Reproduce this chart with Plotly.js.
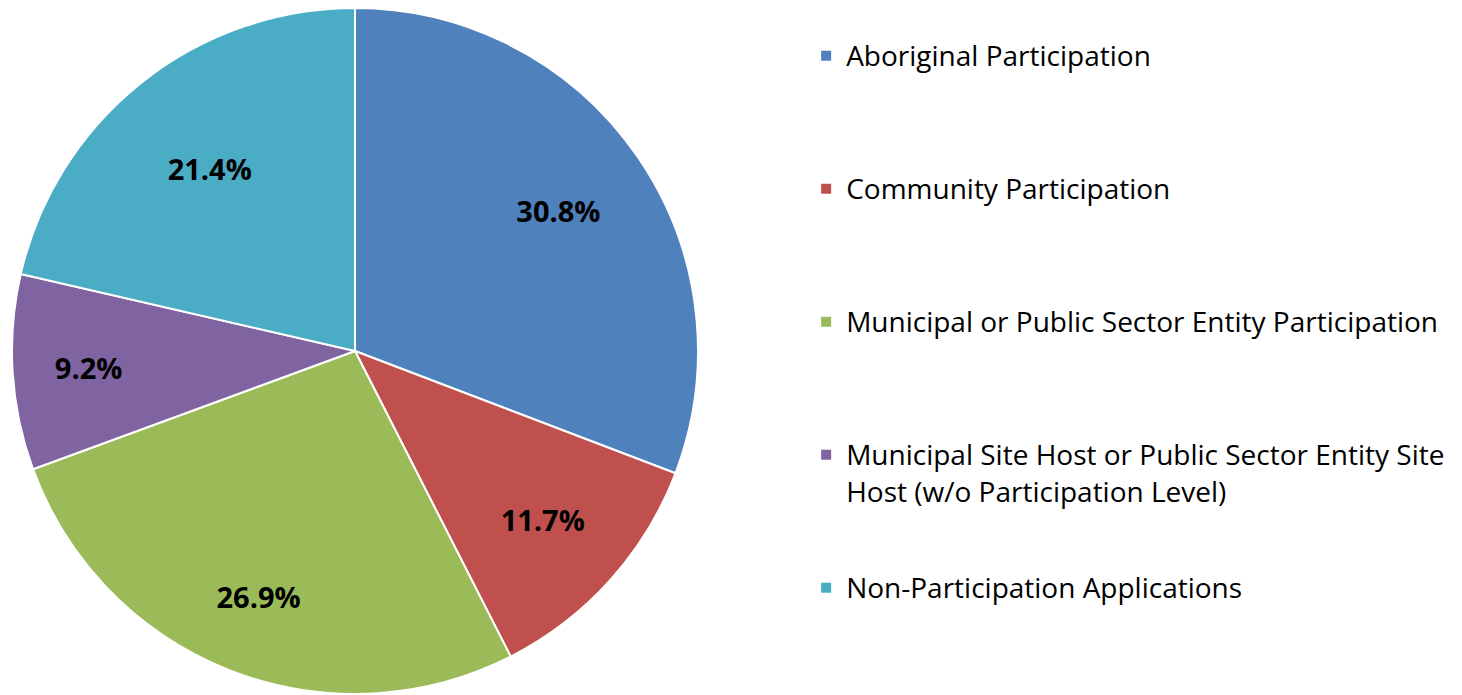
<!DOCTYPE html>
<html>
<head>
<meta charset="utf-8">
<script src="https://cdn.plot.ly/plotly-3.0.1.min.js"></script>
<style>html,body{margin:0;padding:0;background:#fff;}#chart{width:1462px;height:695px;}</style>
</head>
<body>
<div id="chart"></div>
<script>
const categories = [
  "Aboriginal Participation",
  "Community Participation",
  "Municipal or Public Sector Entity Participation",
  "Municipal Site Host or Public Sector Entity Site<br>Host (w/o Participation Level)",
  "Non-Participation Applications"
];
const shares = [30.8, 11.7, 26.9, 9.2, 21.4];
const colors = ["#4F81BD", "#C0504D", "#9BBB59", "#8064A2", "#4BACC6"];

// legend entries: larger glyphs, padded with blank lines so every entry spans the same band;
// continuation lines are nudged down a little for a looser line spacing
const legendLabels = categories.map((c, k) => {
  const parts = c.split("<br>");
  let s = parts.map((p, j) => {
    const span = '<span style="font-size:28px">' + p + '</span>';
    return j === 0 ? span : '<sub>' + span + '</sub>';
  }).join("<br>");
  if (k < categories.length - 1) {
    for (let i = parts.length; i < 4; i++) s += "<br> ";
  }
  return s;
});

const W = 1462, H = 695;
const cx = 355, cy = 351, R = 343;
const domain = {
  x: [(cx - R) / W, (cx + R) / W],
  y: [1 - (cy + R) / H, 1 - (cy - R) / H]
};

// visible slices + legend
const slices = {
  type: "pie",
  labels: legendLabels,
  values: shares,
  sort: false,
  direction: "clockwise",
  rotation: 0,
  marker: {colors: colors, line: {color: "#ffffff", width: 2}},
  textinfo: "none",
  hoverinfo: "label+percent",
  domain: domain
};

// transparent label layers; the hole size sets how far out each in-slice label sits
function labelLayer(hole, shownIdx) {
  return {
    type: "pie",
    labels: legendLabels,
    values: shares,
    sort: false,
    direction: "clockwise",
    rotation: 0,
    hole: hole,
    showlegend: false,
    marker: {colors: colors.map(() => "rgba(0,0,0,0)"), line: {width: 0}},
    texttemplate: "%{value:.1f}%",
    textinfo: "text",
    textposition: shares.map((v, i) => shownIdx.includes(i) ? "inside" : "none"),
    insidetextorientation: "horizontal",
    textfont: {family: "'Open Sans', sans-serif", size: 29, color: "#000000", weight: "bold"},
    hoverinfo: "skip",
    domain: domain
  };
}

const layout = {
  width: W, height: H,
  margin: {l: 0, r: 0, t: 0, b: 0},
  paper_bgcolor: "#ffffff",
  showlegend: true,
  legend: {
    x: 0.5514, xanchor: "left",
    y: 1 - 33 / H, yanchor: "top",
    valign: "top",
    font: {family: "'Open Sans', sans-serif", size: 25, color: "#000000"},
    bgcolor: "rgba(0,0,0,0)"
  }
};

Plotly.newPlot("chart", [
  slices,
  labelLayer(0.44, [0, 1, 3]),
  labelLayer(0.54, [2]),
  labelLayer(0.36, [4])
], layout, {displayModeBar: false, staticPlot: true});
</script>
</body>
</html>
